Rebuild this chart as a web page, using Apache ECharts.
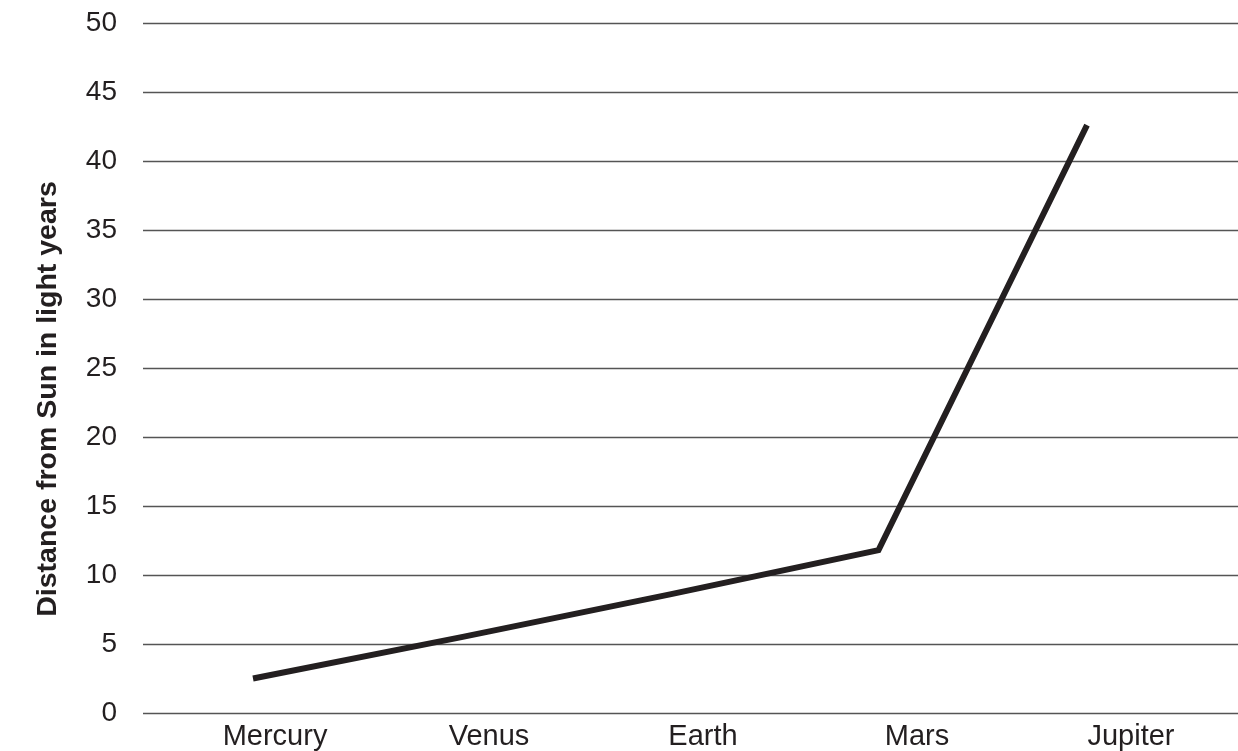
<!DOCTYPE html>
<html>
<head>
<meta charset="utf-8">
<script src="https://cdn.jsdelivr.net/npm/echarts@6/dist/echarts.min.js"></script>
<style>
  html, body { margin: 0; padding: 0; background: #fff; }
  #chart { width: 1238px; height: 751px; }
</style>
</head>
<body>
<div id="chart"></div>
<script>
// planets and distance
const planets = ['Mercury', 'Venus', 'Earth', 'Mars', 'Jupiter'];
const distances = [2.5, 5.5, 8.6, 11.8, 42.6];
const yTicks = [0, 5, 10, 15, 20, 25, 30, 35, 40, 45, 50];

const ink = '#231f20';
const font = '"Liberation Sans", Arial, sans-serif';

const chart = echarts.init(document.getElementById('chart'), null, { renderer: 'canvas' });

chart.setOption({
    animation: false,
    backgroundColor: '#fff',
    grid: { left: 143, right: 0, top: 23, bottom: 36, containLabel: false },
    xAxis: [
        {
            // labels only
            type: 'value',
            min: -0.617,
            max: 4.5,
            axisLine: { show: false },
            axisTick: { show: false },
            splitLine: { show: false },
            axisLabel: {
                customValues: planets.map((p, i) => i),
                formatter: v => planets[v] || '',
                color: ink,
                fontFamily: font,
                fontSize: 29,
                margin: 9
            }
        },
        {
            // line positions
            type: 'value',
            min: -0.5276,
            max: 4.7242,
            show: false
        }
    ],
    yAxis: {
        type: 'value',
        min: yTicks[0],
        max: yTicks[yTicks.length - 1],
        interval: 5,
        name: 'Distance from Sun in light years',
        nameLocation: 'middle',
        nameRotate: 90,
        nameGap: 80,
        nameTextStyle: {
            color: ink, fontFamily: font, fontSize: 28.5, fontWeight: 'bold',
            padding: [0, 62, 0, 0]
        },
        axisLine: { show: false },
        axisTick: { show: false },
        axisLabel: { color: ink, fontFamily: font, fontSize: 28, margin: 26 },
        splitLine: { lineStyle: { color: '#555', width: 1.4 } }
    },
    series: [{
        type: 'line',
        xAxisIndex: 1,
        data: distances.map((d, i) => [i, d]),
        symbol: 'none',
        lineStyle: { color: ink, width: 6, join: 'miter', cap: 'butt' }
    }]
});
</script>
</body>
</html>
